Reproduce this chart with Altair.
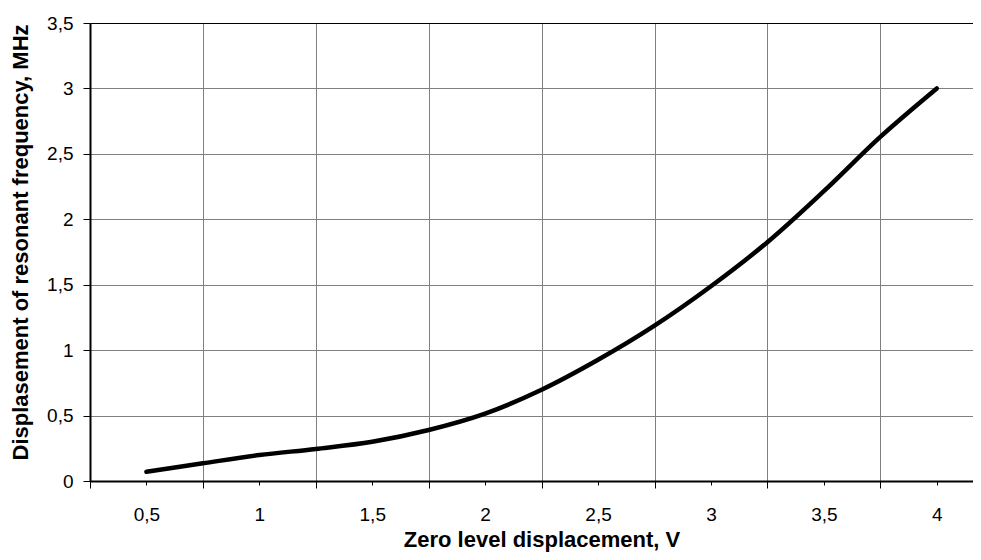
import altair as alt
import pandas as pd

# Data
zero_level_v = [0.5, 0.75, 1.0, 1.25, 1.5, 1.75, 2.0, 2.25, 2.5, 2.75, 3.0, 3.25, 3.5, 3.75, 4.0]
freq_shift_mhz = [0.07, 0.135, 0.198, 0.245, 0.3, 0.39, 0.515, 0.697, 0.926, 1.187, 1.488, 1.825, 2.215, 2.63, 3.0]

x_tick_values = [0.25, 0.5, 0.75, 1.0, 1.25, 1.5, 1.75, 2.0, 2.25, 2.5, 2.75, 3.0, 3.25, 3.5, 3.75, 4.0]
y_tick_values = [0, 0.5, 1.0, 1.5, 2.0, 2.5, 3.0, 3.5]

x_title = "Zero level displacement, V"
y_title = "Displasement of resonant frequency, MHz"

df = pd.DataFrame({"x": zero_level_v, "y": freq_shift_mhz})

FONT = "Liberation Sans"
W, H = 883, 458
X_MAX = 0.25 + W / 225.8

x_axis = alt.Axis(
    values=x_tick_values,
    labelExpr="(datum.value * 2) % 1 == 0 ? replace(toString(datum.value), '.', ',') : ''",
    labelFont=FONT, labelFontSize=19, labelColor="black",
    labelOverlap=False, labelFlush=False,
    labelPadding=20,
    tickSize={"condition": {"test": "(datum.value * 2) % 1 == 0", "value": 4}, "value": 7},
    tickColor="black", tickWidth=1,
    domainColor="black", domainWidth=2,
    grid=True,
    gridColor="#808080", gridWidth=1,
    gridOpacity={"condition": {"test": "(datum.value * 2) % 1 == 0 || datum.value < 0.3", "value": 0}, "value": 1},
    title=x_title, titleFont=FONT, titleFontSize=22, titleFontWeight="bold", titleColor="black",
    titleX=451.5, titleY=65, titleAlign="center", titleBaseline="alphabetic",
)

y_axis = alt.Axis(
    values=y_tick_values,
    labelExpr="replace(toString(datum.value), '.', ',')",
    labelFont=FONT, labelFontSize=19, labelColor="black",
    labelOverlap=False, labelFlush=False,
    labelPadding=10,
    tickSize=7, tickColor="black", tickWidth=1,
    domainColor="black", domainWidth=2,
    grid=True, gridWidth=1,
    gridColor={"condition": {"test": "datum.value == 0 || datum.value == 3.5", "value": "black"}, "value": "#808080"},
    title=y_title, titleFont=FONT, titleFontSize=22, titleFontWeight="bold", titleColor="black",
    titleAngle=270, titleX=-63, titleY=219, titleAlign="center", titleBaseline="alphabetic",
)

chart = (
    alt.Chart(df)
    .mark_line(color="black", strokeWidth=4.5, interpolate="catmull-rom", strokeCap="round")
    .encode(
        x=alt.X("x:Q", scale=alt.Scale(domain=[0.25, X_MAX], nice=False, zero=False), axis=x_axis),
        y=alt.Y("y:Q", scale=alt.Scale(domain=[0, 3.5], nice=False), axis=y_axis),
    )
    .properties(
        width=W, height=H,
        autosize=alt.AutoSizeParams(type="none"),
        padding={"left": 82, "top": 15, "right": 0, "bottom": 71},
        background="white",
    )
    .configure_view(strokeWidth=0)
)

chart.save("out.html", embed_options={"renderer": "svg", "actions": False})
